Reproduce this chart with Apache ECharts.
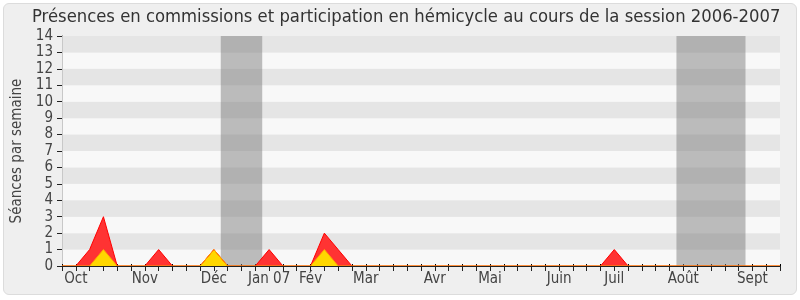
<!DOCTYPE html>
<html><head><meta charset="utf-8">
<script src="https://cdn.jsdelivr.net/npm/echarts@6/dist/echarts.min.js"></script>
<style>
html,body{margin:0;padding:0;background:#fff;}
#wrap{position:absolute;left:3px;top:3px;width:792px;height:290px;background:#efefef;border:1px solid #dcdcdc;border-radius:6px;}
#c{position:absolute;left:0;top:0;width:800px;height:300px;}
</style></head>
<body><div id="wrap"></div><div id="c"></div>
<script>
var title = 'Présences en commissions et participation en hémicycle au cours de la session 2006-2007';
var yTitle = 'Séances par semaine';
// weekly values, weeks 0..52
var presenceCommission = [0,0,1,3,0,0,0,1,0,0,0,1,0,0,0,1,0,0,0,2,1,0,0,0,0,0,0,0,0,0,0,0,0,0,0,0,0,0,0,0,1,0,0,0,0,0,0,0,0,0,0,0,0];
var participationHemicycle = [0,0,0,1,0,0,0,0,0,0,0,1,0,0,0,0,0,0,0,1,0,0,0,0,0,0,0,0,0,0,0,0,0,0,0,0,0,0,0,0,0,0,0,0,0,0,0,0,0,0,0,0,0];
var monthLabels = ['Oct','Nov','Déc','Jan 07','Fév','Mar','Avr','Mai','Juin','Juil','Août','Sept'];
var monthWeeks = [1,6,11,15,18,22,27,31,36,40,45,50];
var holidayStart = [11.5,44.5];
var holidayEnd = [14.5,49.5];

var font = 'DejaVu Sans Condensed';
function pairs(arr){ return arr.map(function(v,i){return [i,v];}); }
var labelMap = {};
monthWeeks.forEach(function(w,i){ labelMap[w]=monthLabels[i]; });
var marks = holidayStart.map(function(s,i){ return [{xAxis:s},{xAxis:holidayEnd[i]}]; });

var chart = echarts.init(document.getElementById('c'));
chart.setOption({
  backgroundColor:'transparent',
  animation:false,
  title:{text:title,left:27,top:3,textStyle:{fontFamily:font,fontWeight:'normal',fontSize:18.3,color:'#333'}},
  grid:{left:62,right:20,top:36,bottom:34},
  xAxis:[{
    type:'value',min:0,max:52,interval:1,z:5,
    axisLine:{show:true,lineStyle:{color:'#222',width:1}},
    axisTick:{show:true,length:5,lineStyle:{color:'#222'}},
    axisLabel:{fontFamily:font,fontSize:15,color:'#444',margin:6,formatter:function(v){return labelMap[v]||'';}},
    splitLine:{show:false}
  },{
    type:'value',position:'top',min:0,max:52,interval:1,
    axisLine:{show:false},
    axisTick:{show:true,length:2,lineStyle:{color:'#000',width:1}},
    axisLabel:{show:false},splitLine:{show:false}
  }],
  yAxis:[{
    type:'value',min:0,max:14,interval:1,
    name:yTitle,nameLocation:'middle',nameGap:36,
    nameTextStyle:{fontFamily:font,fontSize:15,color:'#444'},
    axisLine:{show:true,lineStyle:{color:'#222'}},
    axisTick:{show:true,length:5,lineStyle:{color:'#222'}},
    axisLabel:{fontFamily:font,fontSize:15,color:'#444',margin:9},
    splitLine:{show:false},
    splitArea:{show:true,areaStyle:{color:['#f8f8f8','#e5e5e5']}}
  },{
    type:'value',position:'right',min:0,max:14,interval:1,
    axisLine:{show:true,lineStyle:{color:'#c8c8c8'}},
    axisTick:{show:false},axisLabel:{show:false},splitLine:{show:false}
  }],
  series:[{
    type:'line',data:pairs(presenceCommission),symbol:'none',
    lineStyle:{color:'#ff0000',width:1},
    areaStyle:{color:'#ff3333',opacity:1},
    markArea:{silent:true,itemStyle:{color:'rgba(125,125,125,0.5)'},data:marks}
  },{
    type:'line',data:pairs(participationHemicycle),symbol:'none',
    lineStyle:{color:'#ffa500',width:1},
    areaStyle:{color:'#ffd700',opacity:1}
  }]
});
</script></body></html>
